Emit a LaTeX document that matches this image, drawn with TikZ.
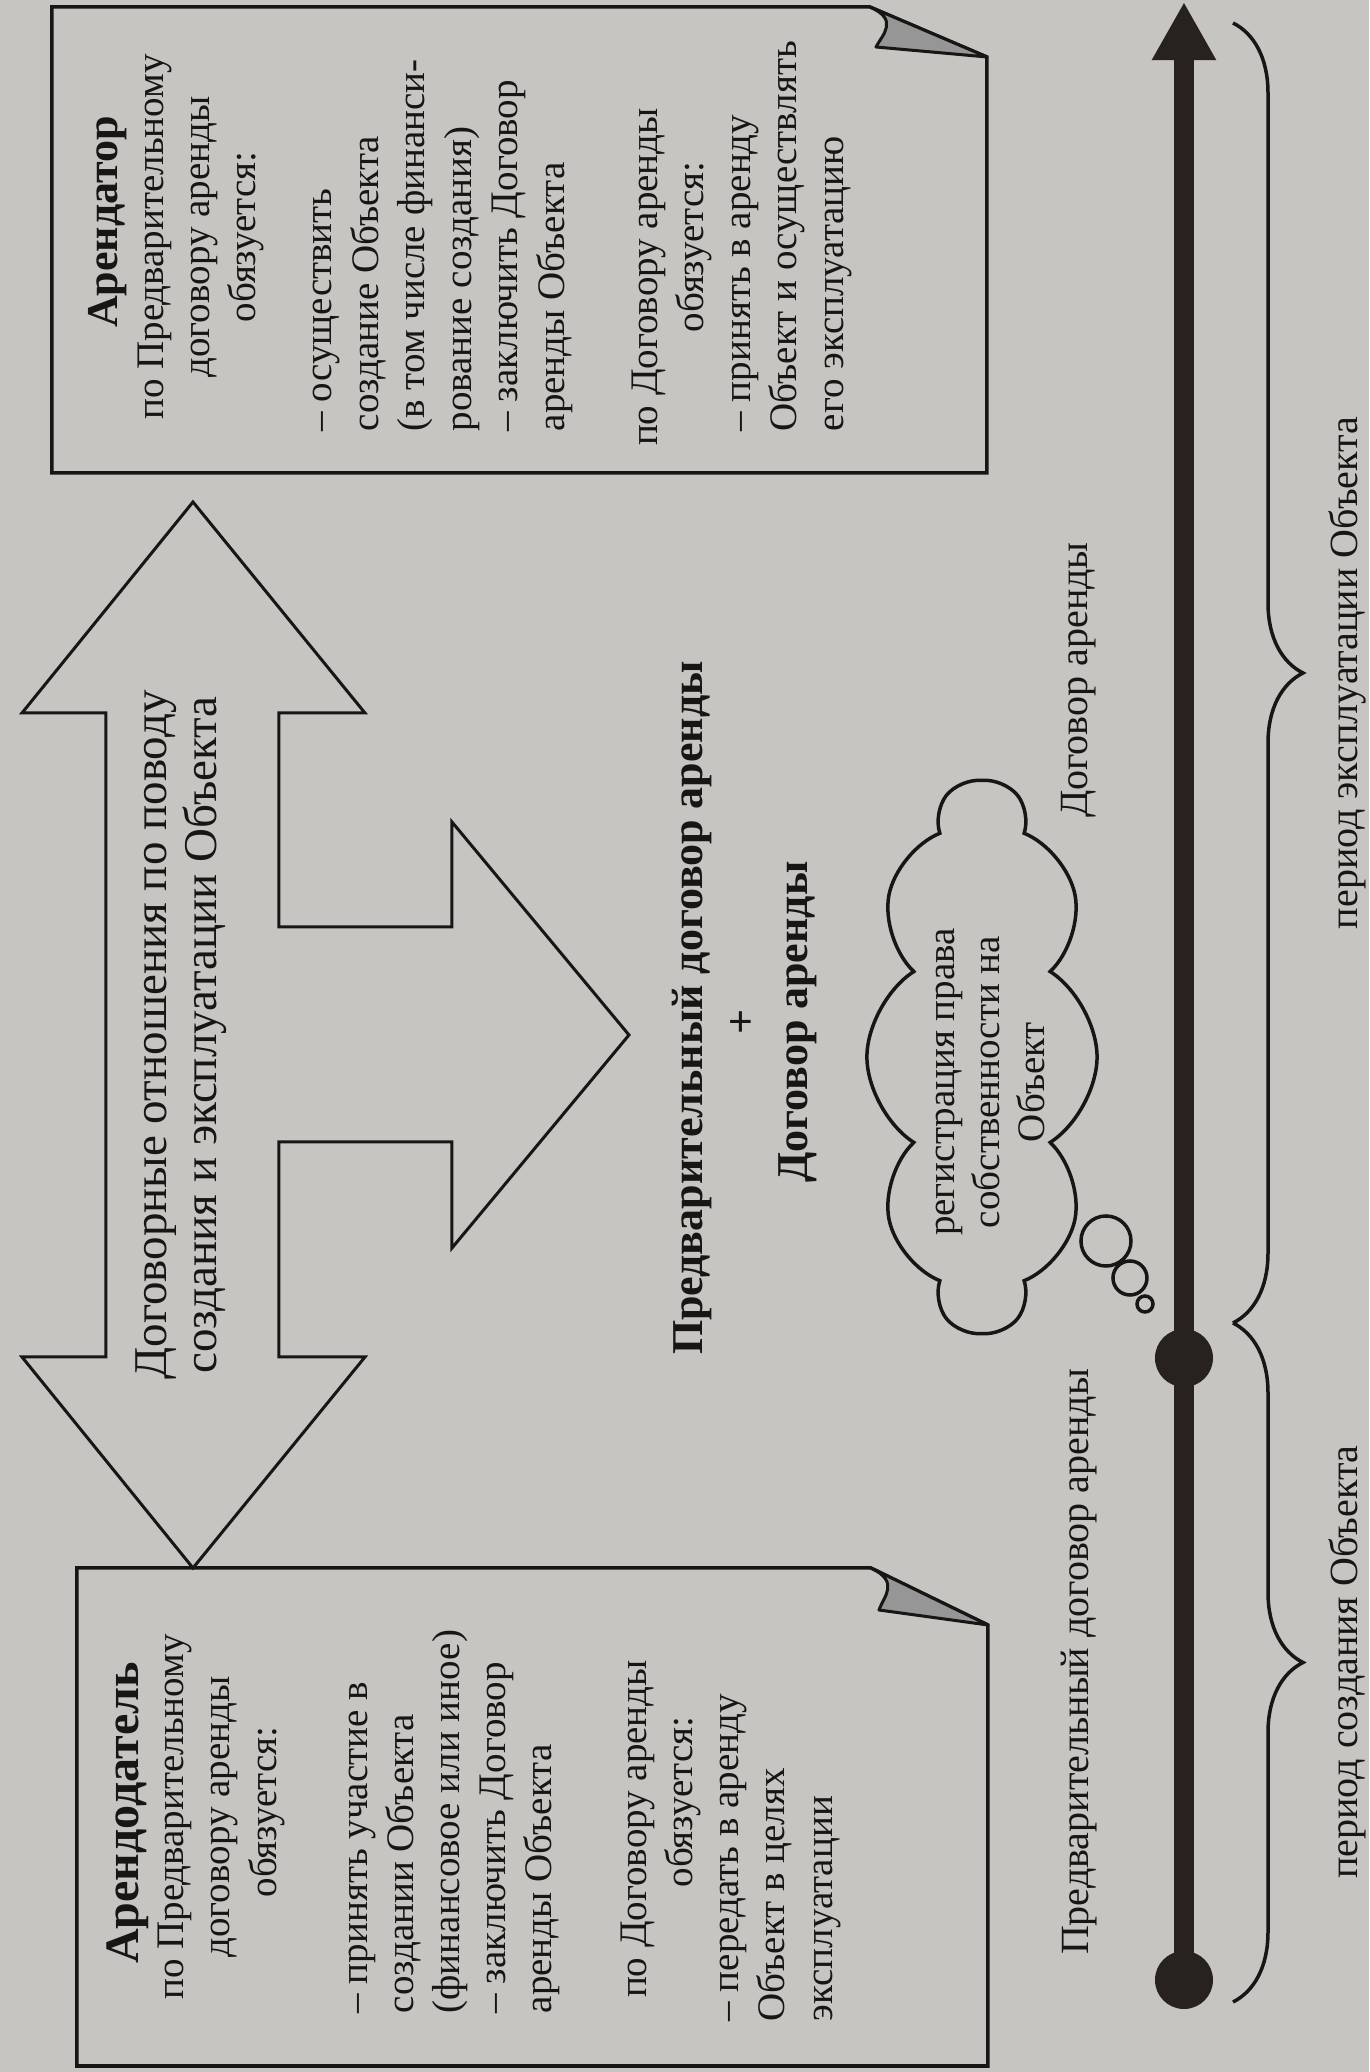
\documentclass[tikz,border=0pt]{standalone}
\usepackage{fontspec}
\setmainfont{Liberation Serif}
\usetikzlibrary{shapes.symbols,decorations.pathreplacing,arrows.meta}
\definecolor{bgc}{RGB}{199,197,193}
\definecolor{ink}{RGB}{24,22,21}
\definecolor{tlc}{RGB}{40,34,31}
\definecolor{flapc}{RGB}{150,150,150}
\newcommand\fsz[2]{\fontsize{#1mm}{#2mm}\selectfont}
\begin{document}
\begin{tikzpicture}[
  txt/.style={inner sep=0pt, text=ink, anchor=base, font=\fsz{3.9}{4.6}},
  txtl/.style={txt, anchor=base west},
  lbl/.style={txt, font=\fsz{4.0}{4.6}},
  ttl/.style={txt, font=\bfseries\fsz{4.6}{5}},
  bigt/.style={txt, font=\fsz{4.7}{5.2}},
  boldt/.style={txt, font=\bfseries\fsz{4.4}{5}},
  outl/.style={draw=ink, line width=0.035cm, line join=miter},
  flapst/.style={fill=flapc, draw=ink, line width=0.03cm, line join=round},
  tline/.style={draw=tlc, line width=0.2cm},
  tdot/.style={circle, fill=tlc, minimum size=0.58cm, inner sep=0pt},
  bubble/.style={circle, draw=ink, line width=0.035cm, inner sep=0pt},
  brc/.style={draw=ink, line width=0.035cm, decorate, decoration={brace, amplitude=0.7cm}},
  cloudst/.style={cloud, draw=ink, line width=0.035cm, cloud puffs=10, cloud puff arc=115, aspect=2.4, minimum width=5.5cm, minimum height=2.3cm, inner sep=0pt},
]
\begin{scope}[x=0.01cm, y=0.01cm, rotate=90, transform shape]
\useasboundingbox (0,0) rectangle (2072,1369);
\fill[bgc] (0,0) rectangle (2072,1369);

% ---- box 1 (Арендатор)
\draw[outl] (2015,382) -- (1599,382) -- (1599,1317) -- (2065,1317) -- (2065,499) -- cycle;
\filldraw[flapst] (2065,499) .. controls (2052,470) and (2038,486) .. (2025,493) -- (2015,382) -- cycle;
\node[ttl, font=\bfseries\fsz{4.4}{5}] (b1t) at (1850,1251) {Арендатор};
\node[txt] (b1h1) at (1835,1205) {по Предварительному};
\node[txt] (b1h2) at (1835,1159) {договору аренды};
\node[txt] (b1h3) at (1835,1113) {обязуется:};
\node[txtl] (b1a1) at (1640,1037) {– осуществить};
\node[txtl] (b1a2) at (1640,990) {создание Объекта};
\node[txtl] (b1a3) at (1640,944) {(в том числе финанси-};
\node[txtl] (b1a4) at (1640,897) {рование создания)};
\node[txtl] (b1a5) at (1640,851) {– заключить Договор};
\node[txtl] (b1a6) at (1640,804) {аренды Объекта};
\node[txt] (b1s1) at (1795,711) {по Договору аренды};
\node[txt] (b1s2) at (1825,665) {обязуется:};
\node[txtl] (b1b1) at (1640,618) {– принять в аренду};
\node[txtl] (b1b2) at (1640,572) {Объект и осуществлять};
\node[txtl] (b1b3) at (1640,525) {его эксплуатацию};

% ---- box 2 (Арендодатель)
\draw[outl] (447,381) -- (6,381) -- (6,1292) -- (504,1292) -- (504,498) -- cycle;
\filldraw[flapst] (504,498) .. controls (490,469) and (476,485) .. (462,490) -- (447,381) -- cycle;
\node[ttl, font=\bfseries\fsz{4.8}{5.2}] (b2t) at (259,1230) {Арендодатель};
\node[txt] (b2h1) at (255,1185) {по Предварительному};
\node[txt] (b2h2) at (255,1139) {договору аренды};
\node[txt] (b2h3) at (260,1092) {обязуется:};
\node[txtl] (b2a1) at (58,1001) {– принять участие в};
\node[txtl] (b2a2) at (58,955) {создании Объекта};
\node[txtl] (b2a3) at (58,909) {(финансовое или иное)};
\node[txtl] (b2a4) at (58,863) {– заключить Договор};
\node[txtl] (b2a5) at (58,817) {аренды Объекта};
\node[txt] (b2s1) at (243,722) {по Договору аренды};
\node[txt] (b2s2) at (270,676) {обязуется:};
\node[txtl] (b2b1) at (50,630) {– передать в аренду};
\node[txtl] (b2b2) at (50,584) {Объект в целях};
\node[txtl] (b2b3) at (50,536) {эксплуатации};

% ---- double arrow with branch
\draw[outl, line width=0.03cm] (1570,1176) -- (1359,1347) -- (1359,1263) -- (715,1263) -- (715,1347)
  -- (504,1176) -- (715,1004) -- (715,1090) -- (930,1090) -- (930,917) -- (824,917)
  -- (1037,740) -- (1250,917) -- (1145,917) -- (1145,1090) -- (1359,1090) -- (1359,1004) -- cycle;
\node[bigt] (ar1) at (1037,1202) {Договорные отношения по поводу};
\node[bigt] (ar2) at (1037,1152) {создания и эксплуатации Объекта};

% ---- centre text
\node[boldt] (pd1) at (1064,666) {Предварительный договор аренды};
\node[boldt] (pd2) at (1050,613) {+};
\node[boldt] (pd3) at (1050,561) {Договор аренды};

% ---- cloud
\node[cloudst] (cl) at (1015,387) {};
\node[txt] (c1) at (990,414) {регистрация права};
\node[txt] (c2) at (990,369) {собственности на};
\node[txt] (c3) at (990,324) {Объект};
\node[bubble, minimum size=0.5cm] (bb1) at (831,263) {};
\node[bubble, minimum size=0.34cm] (bb2) at (794,239) {};
\node[bubble, minimum size=0.16cm] (bb3) at (768,224) {};

% ---- timeline
\node[tdot] (d0) at (92,185) {};
\node[tdot] (d1) at (714,185) {};
\coordinate (tip) at (2070,185);
\draw[tline, -{Triangle[length=0.58cm,width=0.6cm]}] (d0.center) -- (d1.center) -- (tip);
\node[lbl] (tl1) at (410,280) {Предварительный договор аренды};
\node[lbl] (tl2) at (1392,281) {Договор аренды};

% ---- braces
\coordinate (bA) at (2049,136);
\coordinate (bM) at (749,136);
\coordinate (bZ) at (70,136);
\draw[brc] (bA) -- (bM);
\draw[brc] (bM) -- (bZ);
\node[lbl] (pl1) at (1399,11) {период эксплуатации Объекта};
\node[lbl] (pl2) at (410,11) {период создания Объекта};
\end{scope}
\end{tikzpicture}
\end{document}
